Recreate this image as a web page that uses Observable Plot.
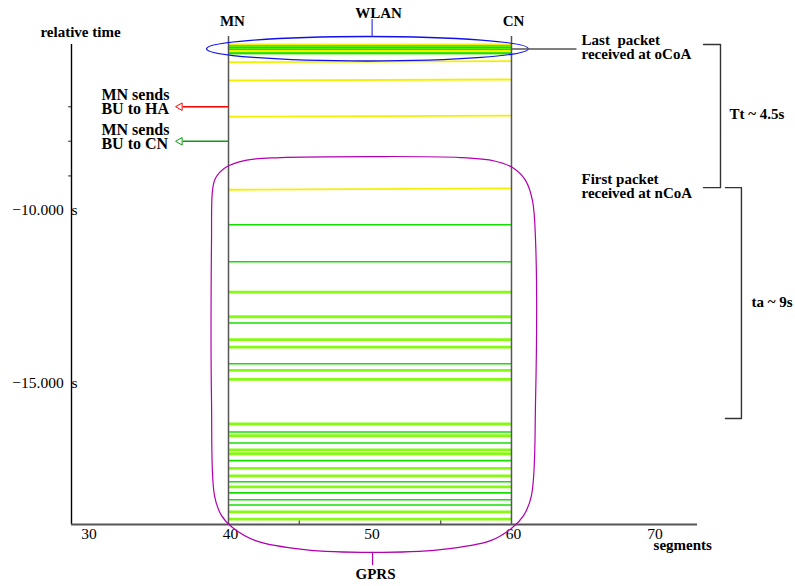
<!DOCTYPE html>
<html><head><meta charset="utf-8">
<script src="https://cdn.jsdelivr.net/npm/d3@7"></script>
<script src="https://cdn.jsdelivr.net/npm/@observablehq/plot@0.6"></script>
<style>body{margin:0;background:#fff}</style>
</head><body><div id="chart"></div>
<script>
// ---- axes
const xDomain = [28.905, 73.145];
const yDomain = [-19.075, -5.202];
const segmentTicks = [30, 40, 50, 60, 70];
const minorSegmentTicks = [45, 55];
const timeTickLabels = [-10, -15];
const eventTicks = [-7, -8, -9];

// ---- nodes
const mnSegment = 40;
const cnSegment = 60;
const nodeLineTop = -4.97;

// ---- packets: time at MN end, time at CN end, kind
const pktTimeAtMN = [-5.20, -5.23, -5.26, -5.29, -5.32, -5.35, -5.39, -5.41, -5.44, -5.46,
  -5.714, -6.243, -7.29, -9.40,
  -10.41, -11.48, -12.36, -13.07, -13.25, -13.73, -13.95, -14.43, -14.62, -14.88,
  -16.17, -16.40, -16.51, -16.72, -16.92, -17.03, -17.23, -17.45, -17.67, -17.84,
  -17.99, -18.16, -18.36, -18.51, -18.71, -18.92];
const pktTimeAtCN = [-5.20, -5.23, -5.26, -5.29, -5.32, -5.35, -5.39, -5.41, -5.44, -5.46,
  -5.685, -6.214, -7.26, -9.36,
  -10.41, -11.48, -12.36, -13.07, -13.25, -13.73, -13.95, -14.43, -14.62, -14.88,
  -16.17, -16.40, -16.51, -16.72, -16.92, -17.03, -17.23, -17.45, -17.67, -17.84,
  -17.99, -18.16, -18.36, -18.51, -18.71, -18.92];
const pktKind = ["y", "g", "yg", "g", "yg", "g", "y", "g", "yg", "g",
  "y", "y", "y", "y",
  "g", "g", "yg", "yg", "g", "yg", "yg", "g", "yg", "yg",
  "yg", "g", "yg", "g", "yg", "yg", "g", "yg", "yg", "g",
  "yg", "g", "g", "g", "yg", "yg"];

// ---- annotations
const buEventTime = [-7.0, -8.0];
const buArrowEnd = 36.57;
const buColors = ["#ff0000", "#119911"];
const buTexts = ["MN sends\nBU to HA", "MN sends\nBU to CN"];
const buTextY = [-6.89, -7.88];
const buTextX = 31.02;

const wlanEllipse = {x1: 38.48, x2: 61.22, y1: -4.985, y2: -5.694};
const gprsShapeX = [38.87, 39.08, 39.79, 41.20, 43.67, 50.18, 56.40, 58.80, 60.07, 60.99, 61.48, 61.70,
  61.70, 61.41, 60.85, 60.07, 58.52, 54.98, 50.18, 45.37, 41.91, 40.28, 39.51, 39.01, 38.80, 38.80];
const gprsShapeY = [-9.42, -9.07, -8.76, -8.55, -8.47, -8.44, -8.47, -8.57, -8.76, -9.13, -9.71, -10.87,
  -15.49, -18.24, -18.82, -19.16, -19.54, -19.80, -19.88, -19.80, -19.54, -19.16, -18.82, -18.24, -15.49, -10.87];

const leaderY = [-5.33, -9.35];
const leaderX = [cnSegment, 64.59];
const noteTexts = ["Last\u00a0 packet\nreceived at oCoA", "First packet\nreceived at nCoA"];
const noteY = [-5.29, -9.30];
const noteX = 64.95;

const bracketTt = {xa: 73.57, xb: 74.77, ya: -5.20, yb: -9.34};
const bracketTa = {xa: 75.12, xb: 76.25, ya: -9.34, yb: -16.01};
const spanTexts = ["Tt ~ 4.5s", "ta ~ 9s"];
const spanX = [75.41, 76.96];
const spanY = [-7.23, -12.65];

const headerTexts = ["MN", "CN", "WLAN"];
const headerX = [40.28, 60.14, 50.6];
const headerY = [-4.54, -4.54, -4.29];

// ---- build
const packets = pktKind.map((k, i) => ({x1: mnSegment, x2: cnSegment, y1: pktTimeAtMN[i], y2: pktTimeAtCN[i], kind: k}));
const gprsShape = gprsShapeX.map((x, i) => ({x, y: gprsShapeY[i]}));
const bu = buEventTime.map((t, i) => ({t, c: buColors[i], text: buTexts[i], ty: buTextY[i]}));
const bracket = b => [{x: b.xa, y: b.ya}, {x: b.xb, y: b.ya}, {x: b.xb, y: b.yb}, {x: b.xa, y: b.yb}];
const bold = {fontWeight: "bold", fontSize: 15, fill: "#000"};

const chart = Plot.plot({
  width: 795, height: 586,
  marginLeft: 71, marginRight: 98, marginTop: 44, marginBottom: 62,
  x: {domain: xDomain},
  y: {domain: yDomain},
  style: {fontFamily: "'Liberation Serif', 'Times New Roman', serif", background: "#fff", overflow: "visible"},
  marks: [
    // packets
    Plot.link(packets.filter(d => d.kind === "yg"), {x1: "x1", x2: "x2", y1: "y1", y2: "y2", stroke: "#86fb10", strokeWidth: 2.8}),
    Plot.link(packets.filter(d => d.kind === "g"), {x1: "x1", x2: "x2", y1: "y1", y2: "y2", stroke: "#14e000", strokeWidth: 1.6}),
    Plot.link(packets.filter(d => d.kind === "y"), {x1: "x1", x2: "x2", y1: "y1", y2: "y2", stroke: "#f6f000", strokeWidth: 1.8}),
    // node lines
    Plot.ruleX([mnSegment, cnSegment], {y1: yDomain[0], y2: nodeLineTop, stroke: "#555", strokeWidth: 1.5}),
    // axes lines
    Plot.ruleX([xDomain[0]], {y1: yDomain[0], y2: yDomain[1], stroke: "#000", strokeWidth: 1.4}),
    Plot.ruleY([yDomain[0]], {x1: xDomain[0], x2: xDomain[1], stroke: "#555", strokeWidth: 1.8}),
    Plot.ruleX(minorSegmentTicks, {y1: yDomain[0], y2: yDomain[0] + 0.1, stroke: "#444", strokeWidth: 1.2}),
    Plot.ruleY(eventTicks, {x1: xDomain[0], x2: xDomain[0] - 0.2, stroke: "#444", strokeWidth: 1.2}),
    Plot.axisX({ticks: segmentTicks, tickSize: 0, tickPadding: 3, dx: 2, fontSize: 15.5, label: null, fill: "#000"}),
    Plot.axisY({ticks: timeTickLabels, tickSize: 0, tickPadding: -6, fontSize: 15.5, label: null, fill: "#000",
      tickFormat: d => "\u2212" + Math.abs(d).toFixed(3) + "\u00a0\u00a0s"}),
    Plot.text(["relative time"], {x: 26.71, y: -4.86, text: d => d, textAnchor: "start", ...bold}),
    Plot.text(["segments"], {x: 70.04, y: -19.68, text: d => d, textAnchor: "start", ...bold}),
    // WLAN ellipse
    Plot.rect([wlanEllipse], {x1: "x1", x2: "x2", y1: "y1", y2: "y2", rx: 161, ry: 12.3, fill: "none", stroke: "#1010ee", strokeWidth: 1.3}),
    Plot.ruleX([50.15], {y1: -4.985, y2: -4.48, stroke: "#4444ee", strokeWidth: 1.3}),
    // GPRS shape
    Plot.line(gprsShape, {x: "x", y: "y", curve: "catmull-rom-closed", stroke: "#b000b0", strokeWidth: 1.2}),
    Plot.ruleX([50.18], {y1: -19.88, y2: -20.26, stroke: "#b000b0", strokeWidth: 1.2}),
    Plot.text(["GPRS"], {x: 50.39, y: -20.52, text: d => d, ...bold}),
    // headers
    Plot.text(headerTexts, {x: (d, i) => headerX[i], y: (d, i) => headerY[i], text: d => d, ...bold}),
    // BU arrows
    Plot.link(bu, {x1: mnSegment, x2: buArrowEnd + 0.2, y1: "t", y2: "t", stroke: "c", strokeWidth: 1.4}),
    Plot.dot(bu, {x: buArrowEnd, y: "t", symbol: "triangle", rotate: -90, r: 2.8, stroke: "c", fill: "#fff", strokeWidth: 1}),
    Plot.text(bu, {x: buTextX, y: "ty", text: "text", textAnchor: "start", lineHeight: 0.88, fontWeight: "bold", fontSize: 16, fill: "#000"}),
    // right notes
    Plot.link(leaderY, {x1: (d, i) => leaderX[i], x2: 64.59, y1: d => d, y2: d => d, stroke: "#555", strokeWidth: 1.4}),
    Plot.text(noteTexts, {x: noteX, y: (d, i) => noteY[i], text: d => d, textAnchor: "start", lineHeight: 0.93, ...bold}),
    Plot.line(bracket(bracketTt), {x: "x", y: "y", stroke: "#333", strokeWidth: 1.4}),
    Plot.line(bracket(bracketTa), {x: "x", y: "y", stroke: "#333", strokeWidth: 1.4}),
    Plot.text(spanTexts, {x: (d, i) => spanX[i], y: (d, i) => spanY[i], text: d => d, textAnchor: "start", ...bold})
  ]
});
document.getElementById("chart").appendChild(chart);
</script></body></html>
